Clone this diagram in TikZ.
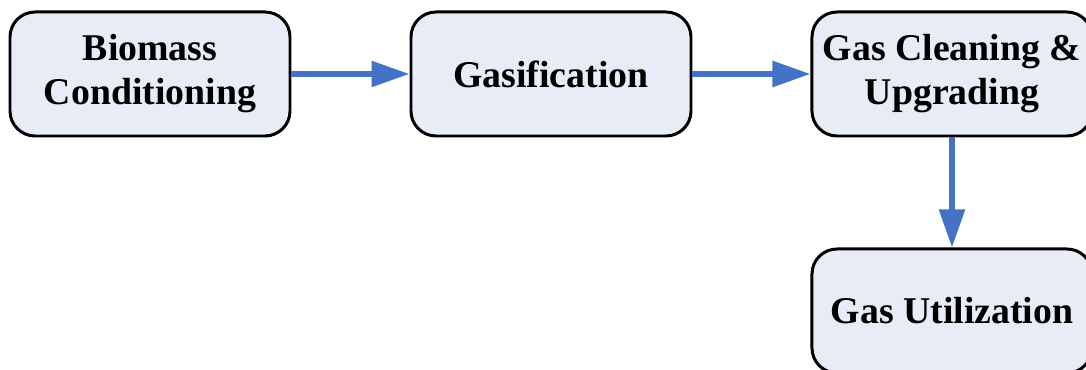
\documentclass[tikz,border=0pt]{standalone}
\usepackage{fontspec}
\setmainfont{Liberation Serif}
\usepackage{tikz}
\usetikzlibrary{positioning}
\usetikzlibrary{graphs}
\usetikzlibrary{arrows.meta}
\definecolor{stagefill}{HTML}{E7ECF7}
\definecolor{flowblue}{HTML}{4472C4}

\begin{document}
\begin{tikzpicture}[stage/.style={draw,line width=1.7pt,rounded corners=0.5cm,fill=stagefill,
            minimum width=5.6cm,minimum height=2.48cm,inner sep=0pt,align=center,
            font=\fontsize{21.5}{25}\selectfont\bfseries},
        >={Triangle[length=0.76cm,width=0.5cm]}]
        \useasboundingbox (0,0) rectangle (21.72,-7.4);

        \node (bio)   [stage] at (3.0,-1.48)          {Biomass\\Conditioning};
        \node (gasif) [stage,right=2.36cm of bio]     {Gasification};
        \node (clean) [stage,right=2.36cm of gasif]   {Gas Cleaning \&\\Upgrading};
        \node (util)  [stage,below=2.2cm of clean]    {Gas Utilization};

        \graph[edges={draw=flowblue,line width=3.2pt}]{
            (bio) -> (gasif) -> (clean) -> (util);
        };
    \end{tikzpicture}
\end{document}
